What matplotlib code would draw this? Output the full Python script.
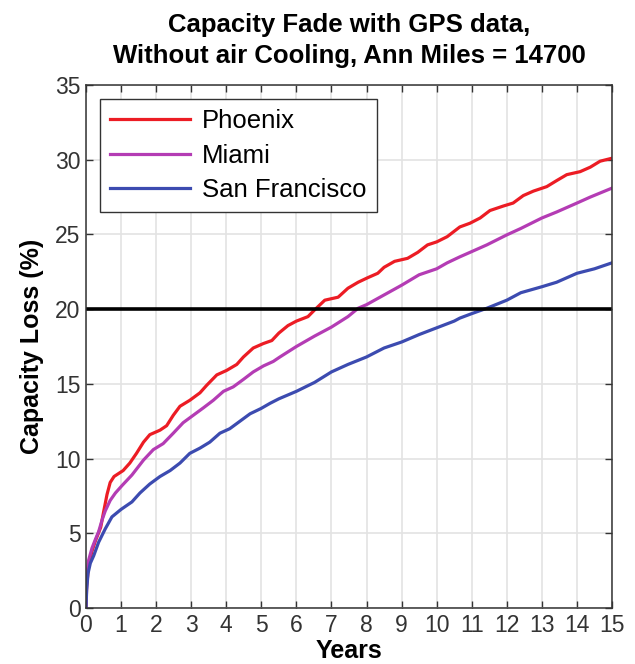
import matplotlib
matplotlib.use("Agg")
import matplotlib.pyplot as plt

plt.rcParams['font.family'] = ['Liberation Sans', 'DejaVu Sans']

# values (years, capacity loss %)
phx_years = [0, 0.02, 0.076, 0.17, 0.27, 0.42, 0.5, 0.6, 0.69, 0.8, 0.93, 1.06, 1.25, 1.44, 1.64, 1.82,
             2.11, 2.3, 2.49, 2.68, 2.96, 3.25, 3.44, 3.73, 4.01, 4.3, 4.49, 4.77, 5.06, 5.3, 5.5, 5.76,
             6.0, 6.33, 6.52, 6.81, 7.19, 7.47, 7.76, 8.03, 8.32, 8.5, 8.8, 9.17, 9.46, 9.74, 10.0, 10.3,
             10.66, 10.95, 11.24, 11.52, 11.9, 12.18, 12.47, 12.76, 13.14, 13.42, 13.71, 14.09, 14.38,
             14.66, 15.0]
phx_loss = [0, 1.5, 2.8, 3.8, 4.5, 5.4, 6.4, 7.6, 8.4, 8.8, 9.0, 9.2, 9.7, 10.35, 11.1, 11.6,
            11.9, 12.2, 12.9, 13.5, 13.9, 14.4, 14.9, 15.6, 15.9, 16.3, 16.8, 17.4, 17.7, 17.9, 18.4, 18.9,
            19.2, 19.5, 19.95, 20.6, 20.8, 21.4, 21.8, 22.1, 22.4, 22.8, 23.2, 23.4, 23.8, 24.3, 24.5, 24.85,
            25.5, 25.75, 26.1, 26.6, 26.9, 27.1, 27.6, 27.9, 28.2, 28.6, 29.0, 29.2, 29.5,
            29.9, 30.1]

mia_years = [0, 0.02, 0.076, 0.17, 0.27, 0.36, 0.46, 0.55, 0.69, 0.84, 1.03, 1.31, 1.64, 1.92, 2.2,
             2.49, 2.77, 3.06, 3.35, 3.63, 3.92, 4.2, 4.49, 4.77, 5.06, 5.34, 5.53, 6.0, 6.52, 7.0,
             7.47, 7.76, 8.0, 8.5, 9.0, 9.5, 10.0, 10.3, 10.66, 10.95, 11.43, 12.0, 12.4, 13.0, 13.42,
             14.0, 14.38, 15.0]
mia_loss = [0, 2.1, 3.2, 4.0, 4.6, 5.1, 5.9, 6.5, 7.2, 7.7, 8.2, 8.9, 9.9, 10.6, 11.0,
            11.7, 12.4, 12.9, 13.4, 13.9, 14.5, 14.8, 15.3, 15.8, 16.2, 16.5, 16.8, 17.5, 18.2, 18.8,
            19.5, 20.06, 20.3, 20.95, 21.6, 22.3, 22.7, 23.1, 23.5, 23.8, 24.3, 24.97, 25.4, 26.1, 26.5,
            27.1, 27.5, 28.1]

sf_years = [0, 0.02, 0.057, 0.124, 0.22, 0.36, 0.55, 0.74, 1.0, 1.31, 1.54, 1.82, 2.11, 2.4, 2.68,
            2.96, 3.25, 3.53, 3.82, 4.1, 4.39, 4.68, 4.99, 5.25, 5.5, 6.0, 6.52, 7.0, 7.47, 8.0, 8.5,
            9.0, 9.5, 10.0, 10.5, 10.66, 11.0, 11.43, 12.0, 12.4, 13.0, 13.42, 14.0, 14.5, 15.0]
sf_loss = [0, 1.2, 2.3, 3.0, 3.5, 4.4, 5.3, 6.1, 6.6, 7.1, 7.7, 8.3, 8.8, 9.2, 9.7,
           10.35, 10.7, 11.1, 11.7, 12.0, 12.5, 13.0, 13.35, 13.7, 14.0, 14.5, 15.1, 15.8, 16.3, 16.8, 17.4,
           17.8, 18.3, 18.75, 19.2, 19.4, 19.7, 20.06, 20.6, 21.1, 21.5, 21.8, 22.4, 22.7, 23.1]

limit = 20

fig = plt.figure(figsize=(6.35, 6.64), dpi=100)
ax = fig.add_axes([0.1354, 0.0843, 0.8284, 0.7877])

ax.plot(phx_years, phx_loss, color='#ec1c24', lw=2.3, label='Phoenix')
ax.plot(mia_years, mia_loss, color='#b43cb4', lw=2.3, label='Miami')
ax.plot(sf_years, sf_loss, color='#3c4bb0', lw=2.3, label='San Francisco')
ax.axhline(limit, color='black', lw=2.6)

ax.set_xlim(0, 15)
ax.set_ylim(0, 35)
ax.set_xticks(range(0, 16))
ax.set_yticks(range(0, 36, 5))
ax.grid(True, color='#e3e3e3', lw=1.2)
ax.set_axisbelow(True)
ax.tick_params(direction='in', length=5, top=True, right=True, labelsize=16.5,
               colors='#333333', width=1, pad=4)
for s in ax.spines.values():
    s.set_color('#333333')
    s.set_linewidth(1.1)

ax.set_xlabel('Years', fontsize=18, fontweight='bold', labelpad=2)
ax.set_ylabel('Capacity Loss (%)', fontsize=18, fontweight='bold', labelpad=8)
ax.set_title('Capacity Fade with GPS data,\nWithout air Cooling, Ann Miles = 14700',
             fontsize=18.5, fontweight='bold', pad=16, linespacing=1.38)

leg = ax.legend(loc='upper left', fontsize=18.5, fancybox=False, framealpha=1,
                edgecolor='#333333', borderaxespad=0.55, handlelength=3.1,
                labelspacing=0.42, borderpad=0.38, handletextpad=0.5)
leg.get_frame().set_linewidth(1.0)

fig.savefig('out.png', dpi=100)
